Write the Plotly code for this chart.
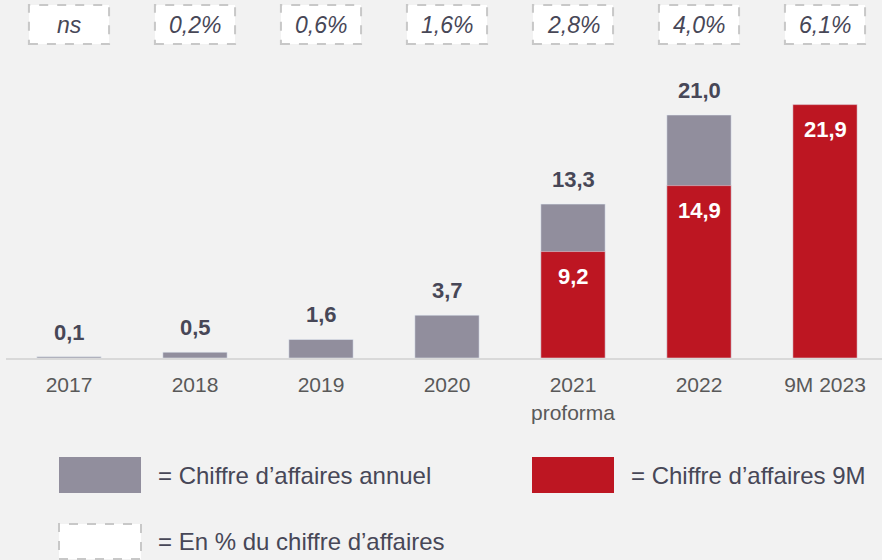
import plotly.graph_objects as go

# data
categories = ["2017", "2018", "2019", "2020", "2021<br>proforma", "2022", "9M 2023"]
annual = [0.1, 0.5, 1.6, 3.7, 13.3, 21.0, None]
nine_months = [None, None, None, None, 9.2, 14.9, 21.9]
pct_of_sales = ["ns", "0,2%", "0,6%", "1,6%", "2,8%", "4,0%", "6,1%"]

GRAY = "#918e9d"
RED = "#bd1622"
DARK = "#474757"
BG = "#f2f2f2"
FONT = "Liberation Sans, Arial, sans-serif"

W, H = 882, 560
ML, MT, MB = 6, 0, 202
PLOT_H = H - MT - MB
PLOT_W = W - ML


def px_x(p):
    return (p - ML) / PLOT_W


def px_y(p):
    return 1 - (p - MT) / PLOT_H


def fmt(v):
    return f"{v:.1f}".replace(".", ",")


x = list(range(len(categories)))

fig = go.Figure()
fig.add_trace(go.Bar(x=x, y=annual, width=0.51, marker_color=GRAY, name="annuel"))
fig.add_trace(go.Bar(x=x, y=nine_months, width=0.51, marker_color=RED, name="9M"))

# value labels
for i, v in enumerate(annual):
    if v is not None:
        fig.add_annotation(x=i, y=v, text=f"<b>{fmt(v)}</b>", showarrow=False,
                           yanchor="bottom", yshift=10,
                           font=dict(family=FONT, size=22, color=DARK))
for i, v in enumerate(nine_months):
    if v is not None:
        fig.add_annotation(x=i, y=v, text=f"<b>{fmt(v)}</b>", showarrow=False,
                           yanchor="top", yshift=-10,
                           font=dict(family=FONT, size=22, color="white"))

# % of sales boxes on top
for i, t in enumerate(pct_of_sales):
    fig.add_shape(type="rect", xref="x", yref="paper",
                  x0=i - 0.318, x1=i + 0.318, y0=px_y(44), y1=px_y(5),
                  fillcolor="white", line=dict(color="#c8c8c8", width=2, dash="dash"))
    fig.add_annotation(x=i, xref="x", yref="paper", y=px_y(25), text=f"<i>{t}</i>",
                       showarrow=False, yanchor="middle",
                       font=dict(family=FONT, size=23, color=DARK))

# legend drawn by hand
legend_items = [
    (59, 457, 493, dict(fillcolor=GRAY, line=dict(width=0)), "= Chiffre d’affaires annuel"),
    (532, 457, 493, dict(fillcolor=RED, line=dict(width=0)), "= Chiffre d’affaires 9M"),
    (59, 524, 559, dict(fillcolor="white", line=dict(color="#c8c8c8", width=2, dash="dash")),
     "= En % du chiffre d’affaires"),
]
for left, top, bottom, style, label in legend_items:
    fig.add_shape(type="rect", xref="paper", yref="paper",
                  x0=px_x(left), x1=px_x(left + 82), y0=px_y(bottom), y1=px_y(top), **style)
    fig.add_annotation(xref="paper", yref="paper", x=px_x(left + 97), y=px_y((top + bottom) / 2),
                       text=label, showarrow=False, xanchor="left", yanchor="middle",
                       font=dict(family=FONT, size=24, color=DARK))

fig.update_layout(
    width=W, height=H,
    margin=dict(l=ML, r=0, t=MT, b=MB, pad=0),
    paper_bgcolor=BG, plot_bgcolor=BG,
    barmode="overlay", showlegend=False,
    xaxis=dict(range=[-0.5, -0.5 + PLOT_W / 126], tickvals=x, ticktext=categories,
               showline=True, linecolor="#d9d9d9", linewidth=2, showgrid=False,
               zeroline=False, ticks="", fixedrange=True, ticklabelstandoff=7,
               tickfont=dict(family=FONT, size=21, color="#595959")),
    yaxis=dict(range=[0, PLOT_H / 11.57], visible=False, fixedrange=True),
)

# drop the page's default body margin so the figure sits at the window's corner
fig.write_html("out.html", config={"displayModeBar": False},
               post_script="document.body.style.margin='0';document.body.style.overflow='hidden';")
